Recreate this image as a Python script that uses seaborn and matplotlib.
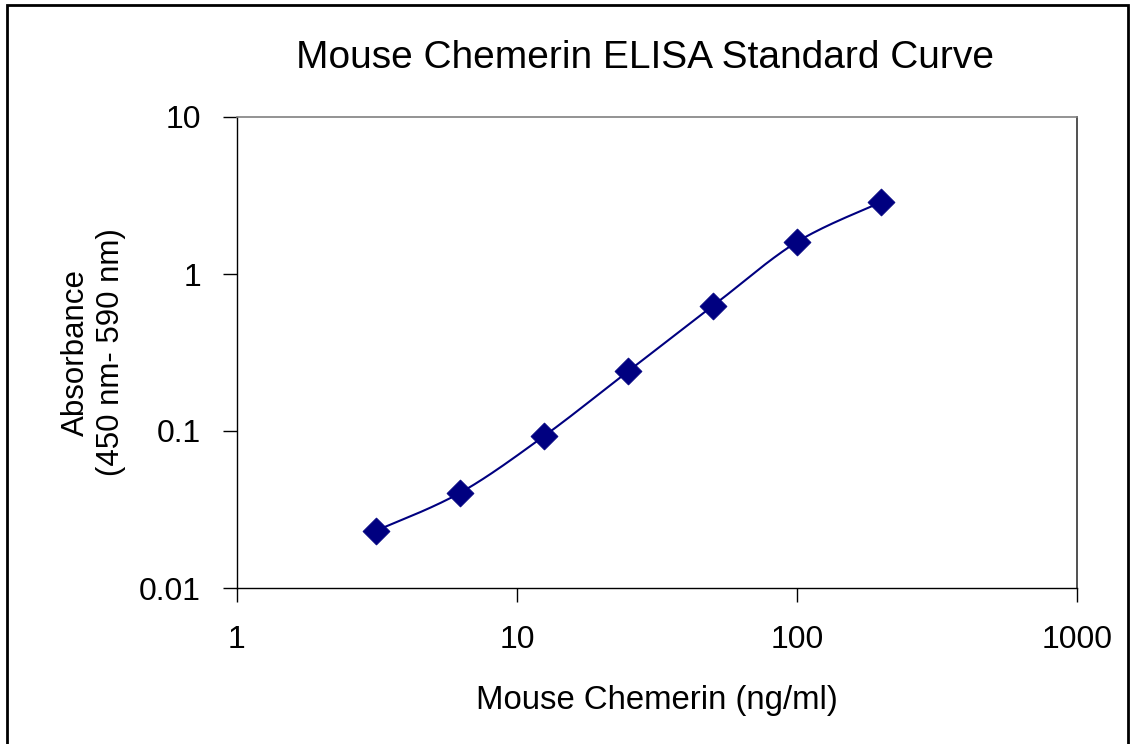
import numpy as np
import pandas as pd
import matplotlib
matplotlib.use("Agg")
import matplotlib.pyplot as plt
import seaborn as sns

# standard curve
conc = [3.125, 6.25, 12.5, 25, 50, 100, 200]
absorb = [0.0231, 0.0403, 0.0929, 0.241, 0.625, 1.60, 2.87]
x_ticks = [1, 10, 100, 1000]
x_ticklabels = ["1", "10", "100", "1000"]
y_ticks = [0.01, 0.1, 1, 10]
y_ticklabels = ["0.01", "0.1", "1", "10"]

navy = "#000080"

sns.set_style("white")
plt.rcParams["font.family"] = ["Liberation Sans", "DejaVu Sans"]
plt.rcParams["text.color"] = "black"
plt.rcParams["axes.labelcolor"] = "black"
plt.rcParams["xtick.color"] = "black"
plt.rcParams["ytick.color"] = "black"


def smooth(xs, ys, n=30):
    # excel-like smoothed line (catmull-rom in log space)
    p = np.column_stack([np.log10(xs), np.log10(ys)])
    p = np.vstack([p[0], p, p[-1]])
    out = []
    for i in range(1, len(p) - 2):
        p0, p1, p2, p3 = p[i - 1], p[i], p[i + 1], p[i + 2]
        c1 = p1 + (p2 - p0) / 6
        c2 = p2 - (p3 - p1) / 6
        t = np.linspace(0, 1, n)[:, None]
        seg = (1 - t) ** 3 * p1 + 3 * (1 - t) ** 2 * t * c1 + 3 * (1 - t) * t ** 2 * c2 + t ** 3 * p2
        out.append(seg)
    out = np.vstack(out)
    return pd.DataFrame({"x": 10 ** out[:, 0], "y": 10 ** out[:, 1]})


curve = smooth(conc, absorb)
pts = pd.DataFrame({"conc": conc, "absorb": absorb})

fig = plt.figure(figsize=(11.32, 7.44), dpi=100)
ax = fig.add_axes([237 / 1132, 1 - 588 / 744, 840 / 1132, 471 / 744])

sns.lineplot(data=curve, x="x", y="y", sort=False, color=navy, linewidth=1.5, ax=ax)
sns.scatterplot(data=pts, x="conc", y="absorb", marker="D", s=190, color=navy,
                edgecolor=navy, linewidth=0.5, ax=ax, zorder=3)

ax.set_xscale("log")
ax.set_yscale("log")
ax.set_xlim(1, 1000)
ax.set_ylim(0.01, 10)
ax.set_xticks(x_ticks)
ax.set_xticklabels(x_ticklabels)
ax.set_yticks(y_ticks)
ax.set_yticklabels(y_ticklabels)
ax.minorticks_off()
ax.tick_params(axis="both", which="major", direction="out", length=10, width=1,
               color="black", labelsize=23, bottom=True, left=True)
ax.tick_params(axis="x", pad=17)
ax.tick_params(axis="y", pad=16)

for s in ["left", "bottom"]:
    ax.spines[s].set_color("black")
    ax.spines[s].set_linewidth(1)
ax.spines["top"].set_color("#808080")
ax.spines["top"].set_linewidth(1.2)
ax.spines["right"].set_color("#333333")
ax.spines["right"].set_linewidth(1.2)

ax.set_xlabel("Mouse Chemerin (ng/ml)", fontsize=23.7, labelpad=21)
ax.set_ylabel("Absorbance\n(450 nm- 590 nm)", fontsize=22.5, labelpad=9, linespacing=1.25)
fig.text(645 / 1132, 1 - 58 / 744, "Mouse Chemerin ELISA Standard Curve",
         fontsize=28, ha="center", va="center")

# outer chart border
fig.patches.append(plt.Rectangle((7 / 1132, -0.01), 1121 / 1132, 1 - 5 / 744 + 0.01,
                                 transform=fig.transFigure, fill=False,
                                 edgecolor="black", linewidth=2))

fig.savefig("out.png", dpi=100)
